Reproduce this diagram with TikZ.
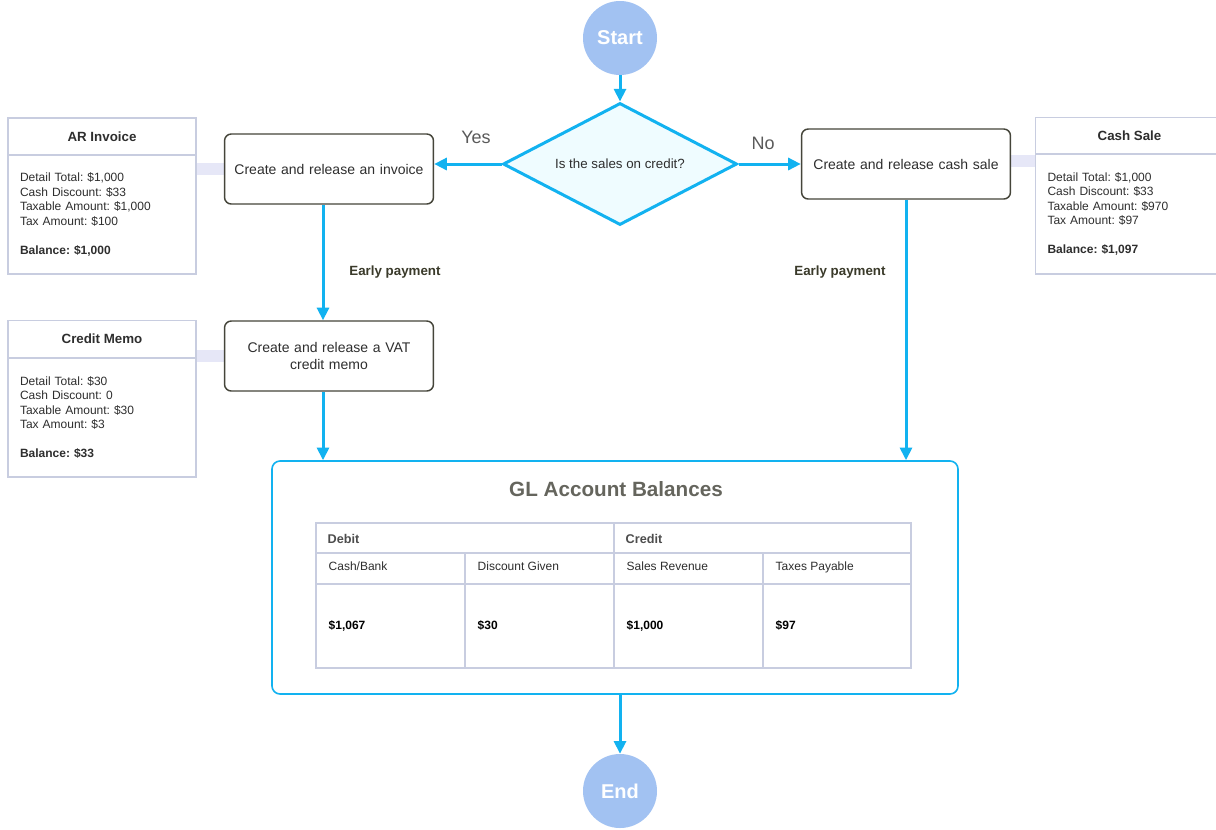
\documentclass[tikz,border=0pt]{standalone}
\usepackage{fontspec}
\setmainfont{Liberation Sans}
\usetikzlibrary{shapes.geometric,arrows.meta}
\definecolor{arrowc}{HTML}{12B2F0}
\definecolor{circfill}{HTML}{A2C2F2}
\definecolor{diafill}{HTML}{EFFCFF}
\definecolor{boxline}{HTML}{45453A}
\definecolor{infoline}{HTML}{C8CDE0}
\definecolor{lav}{HTML}{E6E7F7}
\definecolor{txt}{HTML}{2E2E2E}
\definecolor{olive}{HTML}{3A3A2A}
\definecolor{titlegray}{HTML}{65655D}
\definecolor{yesno}{HTML}{5A5A5A}
\frenchspacing
\tikzset{
  flow/.style={draw=arrowc, line width=2.25pt, -{Triangle[length=9.5pt,width=9pt]}},
  terminal/.style={circle, fill=circfill, minimum size=55.5pt, inner sep=0pt, text=white, font=\fontsize{15}{18}\selectfont\bfseries},
  decision/.style={diamond, aspect=1.92, draw=arrowc, line width=2.25pt, fill=diafill, minimum width=175.5pt, minimum height=91.5pt, inner sep=0pt, text=txt, font=\fontsize{10}{12}\selectfont},
  process/.style={rectangle, rounded corners=5pt, draw=boxline, line width=1.1pt, fill=white, minimum width=156pt, minimum height=52.5pt, text width=150pt, align=center, text=txt, font=\fontsize{10.5}{13}\selectfont},
  infohead/.style={rectangle, draw=infoline, line width=1.1pt, fill=white, minimum width=141pt, minimum height=27.75pt, inner sep=0pt, text=txt, font=\fontsize{10}{12}\selectfont\bfseries},
  infobody/.style={rectangle, draw=infoline, line width=1.1pt, fill=white, minimum width=141pt, text width=123pt, inner xsep=9pt, align=left, text=txt, font=\fontsize{9}{10.9}\selectfont},
  link/.style={draw=lav, line width=9pt},
  edgelabel/.style={text=olive, font=\fontsize{10}{12}\selectfont\bfseries},
  yn/.style={text=yesno, font=\fontsize{13.5}{16}\selectfont},
  glbox/.style={rectangle, rounded corners=6pt, draw=arrowc, line width=1.2pt, fill=white, minimum width=514.5pt, minimum height=174.75pt},
  tabline/.style={draw=infoline, line width=1.1pt},
  cellbase/.style={anchor=west, text height=7pt, text depth=2pt},
  cellhead/.style={cellbase, text=txt!85!white, font=\fontsize{9.5}{11}\selectfont\bfseries},
  cellsub/.style={cellbase, text=txt, font=\fontsize{9}{11}\selectfont},
  cellval/.style={cellbase, text=black, font=\fontsize{9}{11}\selectfont\bfseries}
}
\begin{document}
\begin{tikzpicture}[x=0.75pt,y=-0.75pt]
\useasboundingbox[fill=white] (0,0) rectangle (1216,829);

% lavender link coordinates (drawn first, under the boxes)
\coordinate (arE) at (196,169);
\coordinate (cmE) at (196,356);
\coordinate (csW) at (1035,161);
\coordinate (invW) at (225,169);
\coordinate (memoW) at (225,356);
\coordinate (cashE) at (1010,161);
\path[link] (arE) -- (invW);
\path[link] (cmE) -- (memoW);
\path[link] (cashE) -- (csW);

% main flow nodes
\node[terminal] (start) at (620,38) {Start};
\node[decision] (dec) at (620,164) {Is the sales on credit?};
\node[process] (inv) at (329,169) {Create and release an invoice};
\node[process] (cash) at (906,164) {Create and release cash sale};
\node[process] (memo) at (329,356) {Create and release a VAT\\credit memo};
\node[glbox] (gl) at (615,577.5) {};
\node[terminal] (end) at (620,791) {End};

% info boxes
\node[infohead] (arh) at (102,136.5) {AR Invoice};
\node[infobody, minimum height=89.25pt] (arb) at (102,214.5) {Detail Total: \$1,000\\Cash Discount: \$33\\Taxable Amount: \$1,000\\Tax Amount: \$100\\[10.9pt]\textbf{Balance: \$1,000}};
\node[infohead] (cmh) at (102,339) {Credit Memo};
\node[infobody, minimum height=89.25pt] (cmb) at (102,417.5) {Detail Total: \$30\\Cash Discount: 0\\Taxable Amount: \$30\\Tax Amount: \$3\\[10.9pt]\textbf{Balance: \$33}};
\node[infohead] (csh) at (1129.5,136) {Cash Sale};
\node[infobody, minimum height=90pt] (csb) at (1129.5,214) {Detail Total: \$1,000\\Cash Discount: \$33\\Taxable Amount: \$970\\Tax Amount: \$97\\[10.9pt]\textbf{Balance: \$1,097}};

% arrows
\draw[flow] (start) -- (dec.north);
\draw[flow] (dec.west) -- (dec.west -| inv.east);
\draw[flow] (dec.east) -- (dec.east -| cash.west);
\draw[flow] ([xshift=-4.5pt]inv.south) -- ([xshift=-4.5pt]memo.north);
\draw[flow] ([xshift=-4.5pt]memo.south) -- ([xshift=-4.5pt]memo.south |- gl.north);
\draw[flow] (cash.south) -- (cash.south |- gl.north);
\draw[flow] (end.north |- gl.south) -- (end.north);

% labels
\node[yn] (yes) at (476,137) {Yes};
\node[yn] (no) at (763,143) {No};
\node[edgelabel] (ep1) at (395,272) {Early payment};
\node[edgelabel] (ep2) at (840,272) {Early payment};

% GL content
\node[text=titlegray, font=\fontsize{15.5}{18}\selectfont\bfseries] (gltitle) at (616,489) {GL Account Balances};
\coordinate (t0) at (316,523);
\coordinate (t1) at (911,668);
\draw[tabline] (t0) rectangle (t1);
\draw[tabline] (316,553) -- (911,553);
\draw[tabline] (316,584) -- (911,584);
\draw[tabline] (614,523) -- (614,668);
\draw[tabline] (465,553) -- (465,668);
\draw[tabline] (763,553) -- (763,668);
\node[cellhead] (debit) at (323,540) {Debit};
\node[cellhead] (credit) at (621,540) {Credit};
\node[cellsub] (s1) at (324,567) {Cash/Bank};
\node[cellsub] (s2) at (473,567) {Discount Given};
\node[cellsub] (s3) at (622,567) {Sales Revenue};
\node[cellsub] (s4) at (771,567) {Taxes Payable};
\node[cellval] (v1) at (324,626) {\$1,067};
\node[cellval] (v2) at (473,626) {\$30};
\node[cellval] (v3) at (622,626) {\$1,000};
\node[cellval] (v4) at (771,626) {\$97};
\end{tikzpicture}
\end{document}
